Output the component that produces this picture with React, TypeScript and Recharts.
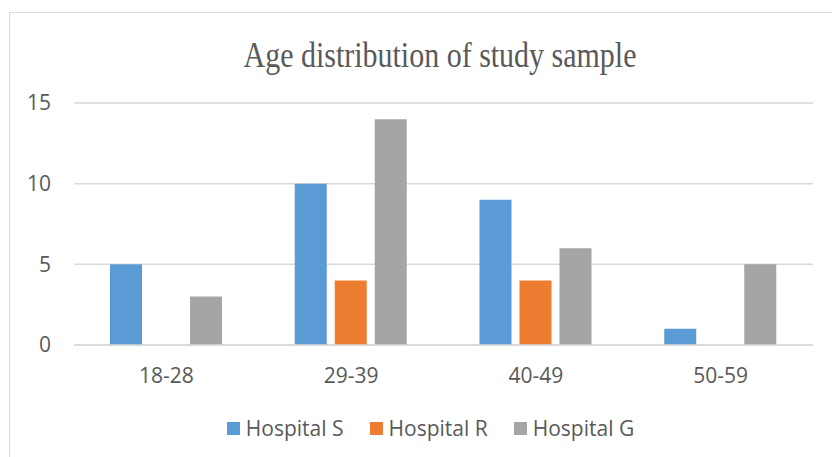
import React from 'react';
import { BarChart, Bar, XAxis, YAxis, CartesianGrid } from 'recharts';

// Age bands on the category axis
const ageGroups = ['18-28', '29-39', '40-49', '50-59'];

// Number of participants per hospital in each age band
const hospitalS = [5, 10, 9, 1];
const hospitalR = [0, 4, 4, 0];
const hospitalG = [3, 14, 6, 5];

const yTicks = [0, 5, 10, 15];

const seriesNames = ['Hospital S', 'Hospital R', 'Hospital G'];
const seriesKeys = ['s', 'r', 'g'];
const seriesColors = ['#5B9BD5', '#ED7D31', '#A5A5A5'];

const chartTitle = 'Age distribution of study sample';

const data = ageGroups.map((group, i) => ({
  group,
  s: hospitalS[i],
  r: hospitalR[i],
  g: hospitalG[i],
}));

const TEXT = '#595959';
const GRID = '#D9D9D9';
const SANS = '"Open Sans", "Noto Sans", sans-serif';
const FONT_SIZE = 21;

export default function App() {
  return (
    <div
      style={{
        position: 'absolute',
        left: 0,
        top: 0,
        width: 832,
        height: 457,
        overflow: 'hidden',
        background: '#fff',
      }}
    >
      {/* chart frame: only top and left edges fall inside the view */}
      <div
        style={{
          position: 'absolute',
          left: 9,
          top: 12,
          width: 1000,
          height: 1000,
          borderTop: `1px solid ${GRID}`,
          borderLeft: `1px solid ${GRID}`,
          boxSizing: 'border-box',
        }}
      />
      <svg
        width={832}
        height={90}
        style={{ position: 'absolute', left: 0, top: 0 }}
      >
        <text
          x={440}
          y={0}
          textAnchor="middle"
          fill={TEXT}
          fontFamily='"Liberation Serif", "Times New Roman", serif'
          fontSize={30}
          transform="translate(0,66.5) scale(1,1.17)"
        >
          {chartTitle}
        </text>
      </svg>
      <div style={{ position: 'absolute', left: 0, top: 0 }}>
        <BarChart
          width={832}
          height={457}
          data={data}
          margin={{ top: 103, right: 19, bottom: 72, left: 0 }}
          barSize={32}
          barGap={8}
        >
          <CartesianGrid vertical={false} stroke={GRID} strokeWidth={1.5} />
          <XAxis
            dataKey="group"
            axisLine={{ stroke: GRID, strokeWidth: 1.5 }}
            tickLine={false}
            tickSize={0}
            tickMargin={23}
            height={40}
            tick={{ fill: TEXT, fontSize: FONT_SIZE, fontFamily: SANS }}
          />
          <YAxis
            domain={[0, 15]}
            ticks={yTicks}
            width={74}
            axisLine={false}
            tickLine={false}
            tickSize={0}
            tickMargin={23}
            tick={{ fill: TEXT, fontSize: FONT_SIZE, fontFamily: SANS }}
          />
          {seriesKeys.map((k, i) => (
            <Bar
              key={k}
              dataKey={k}
              name={seriesNames[i]}
              fill={seriesColors[i]}
              isAnimationActive={false}
            />
          ))}
        </BarChart>
      </div>
      {/* legend */}
      <div
        style={{
          position: 'absolute',
          left: 30,
          width: 801,
          top: 418,
          display: 'flex',
          justifyContent: 'center',
          alignItems: 'center',
          fontFamily: SANS,
          fontSize: FONT_SIZE,
          lineHeight: '20px',
          color: TEXT,
          whiteSpace: 'nowrap',
        }}
      >
        {seriesNames.map((name, i) => (
          <div
            key={name}
            style={{
              display: 'flex',
              alignItems: 'center',
              marginRight: i < seriesNames.length - 1 ? 26 : 0,
            }}
          >
            <span
              style={{
                display: 'inline-block',
                width: 13,
                height: 13,
                background: seriesColors[i],
                marginRight: 6,
              }}
            />
            <span>{name}</span>
          </div>
        ))}
      </div>
    </div>
  );
}
